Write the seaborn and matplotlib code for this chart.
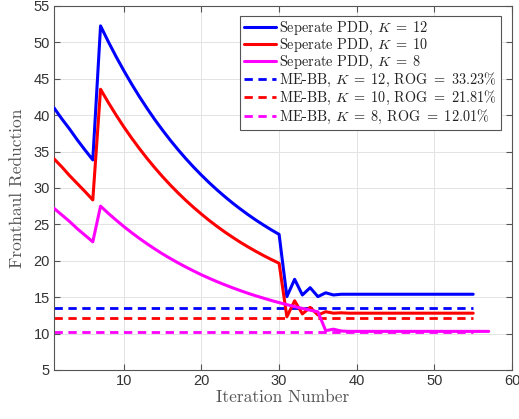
import numpy as np
import pandas as pd
import matplotlib
matplotlib.use("Agg")
import matplotlib.pyplot as plt
import seaborn as sns

# ==========================================
# DATA
# ==========================================
iters_k12 = list(range(1, 56))
pdd_k12 = [41.0, 39.5, 38.1, 36.6, 35.2, 33.85,
           52.25, 50.08, 48.03, 46.10, 44.27, 42.54, 40.91, 39.36, 37.91, 36.53,
           35.23, 34.00, 32.84, 31.75, 30.71, 29.73, 28.81, 27.93, 27.11, 26.33,
           25.59, 24.90, 24.24, 23.62,
           15.07, 17.45, 15.3, 16.3, 15.07, 15.6, 15.3, 15.4] + [15.4] * 17

iters_k10 = list(range(1, 56))
pdd_k10 = [34.0, 32.9, 31.7, 30.6, 29.5, 28.35,
           43.55, 41.73, 40.01, 38.38, 36.85, 35.41, 34.04, 32.75, 31.53, 30.38,
           29.30, 28.27, 27.31, 26.40, 25.53, 24.72, 23.95, 23.23, 22.54, 21.90,
           21.29, 20.71, 20.17, 19.65,
           12.3, 14.5, 12.7, 13.6, 12.55, 13.0, 12.8, 12.85] + [12.8] * 17

iters_k8 = list(range(1, 58))
pdd_k8 = [27.2, 26.3, 25.4, 24.4, 23.5, 22.6,
          27.5, 26.51, 25.58, 24.70, 23.86, 23.07, 22.32, 21.61, 20.93, 20.30,
          19.70, 19.13, 18.59, 18.07, 17.59, 17.13, 16.70, 16.29, 15.90, 15.53,
          15.18, 14.86, 14.54, 14.25, 13.97, 13.70, 13.45, 13.21, 12.99,
          10.4, 10.6, 10.35] + [10.3] * 19

bb_iters = [1, 55]
bb_k12 = [13.55, 13.55]
bb_k10 = [12.2, 12.2]
bb_k8 = [10.2, 10.2]

pdd_labels = [r"Seperate PDD, $K\;=\;12$", r"Seperate PDD, $K\;=\;10$", r"Seperate PDD, $K\;=\;8$"]
bb_labels = [r"ME-BB, $K\;=\;12$, ROG $=\;33.23\%$", r"ME-BB, $K\;=\;10$, ROG $=\;21.81\%$",
             r"ME-BB, $K\;=\;8$, ROG $=\;12.01\%$"]
colors = ["#0000ff", "#ff0000", "#ff00ff"]

# ==========================================
# STYLE
# ==========================================
sns.set_theme(style="whitegrid", rc={
    "axes.edgecolor": "#555555",
    "axes.linewidth": 0.8,
    "grid.color": "#e3e3e3",
    "grid.linewidth": 0.7,
    "xtick.direction": "in",
    "ytick.direction": "in",
    "xtick.top": True,
    "ytick.right": True,
    "xtick.bottom": True,
    "ytick.left": True,
    "xtick.color": "#555555",
    "ytick.color": "#555555",
    "xtick.labelcolor": "#333333",
    "ytick.labelcolor": "#333333",
    "xtick.major.size": 4,
    "ytick.major.size": 4,
})
plt.rcParams["font.family"] = ["Liberation Sans", "DejaVu Sans"]
plt.rcParams["mathtext.fontset"] = "cm"

fig = plt.figure(figsize=(5.19, 4.19), dpi=100)
ax = fig.add_axes([0.104, 0.117, 0.8825, 0.869])

# ==========================================
# PLOT
# ==========================================
for xs, ys, lab, c in zip([iters_k12, iters_k10, iters_k8], [pdd_k12, pdd_k10, pdd_k8], pdd_labels, colors):
    sns.lineplot(x=xs, y=ys, color=c, lw=2.2, label=lab, ax=ax, zorder=3)

for ys, lab, c in zip([bb_k12, bb_k10, bb_k8], bb_labels, colors):
    sns.lineplot(x=bb_iters, y=ys, color=c, lw=2.0, ls=(0, (3, 2)), label=lab, ax=ax, zorder=2)

ax.set_xlim(1, 60)
ax.set_ylim(5, 55)
ax.set_xticks(range(10, 61, 10))
ax.set_yticks(range(5, 56, 5))
ax.tick_params(labelsize=10.5, width=0.8, pad=3)

ax.set_xlabel("Iteration Number", family="cmr10", fontsize=12.5, color="#555555", labelpad=1)
ax.set_ylabel("Fronthaul Reduction", family="cmr10", fontsize=12.5, color="#555555", labelpad=6)

leg = ax.legend(loc="upper right", bbox_to_anchor=(0.976, 0.9725), borderaxespad=0,
                prop={"family": "cmr10", "size": 10.3}, handlelength=2.2, handletextpad=0.25,
                labelspacing=0.0, borderpad=0.3, fancybox=False, framealpha=1, edgecolor="#555555")
leg.get_frame().set_linewidth(0.8)
for t in leg.get_texts():
    t.set_color("#222222")

fig.savefig("out.png", dpi=100)
